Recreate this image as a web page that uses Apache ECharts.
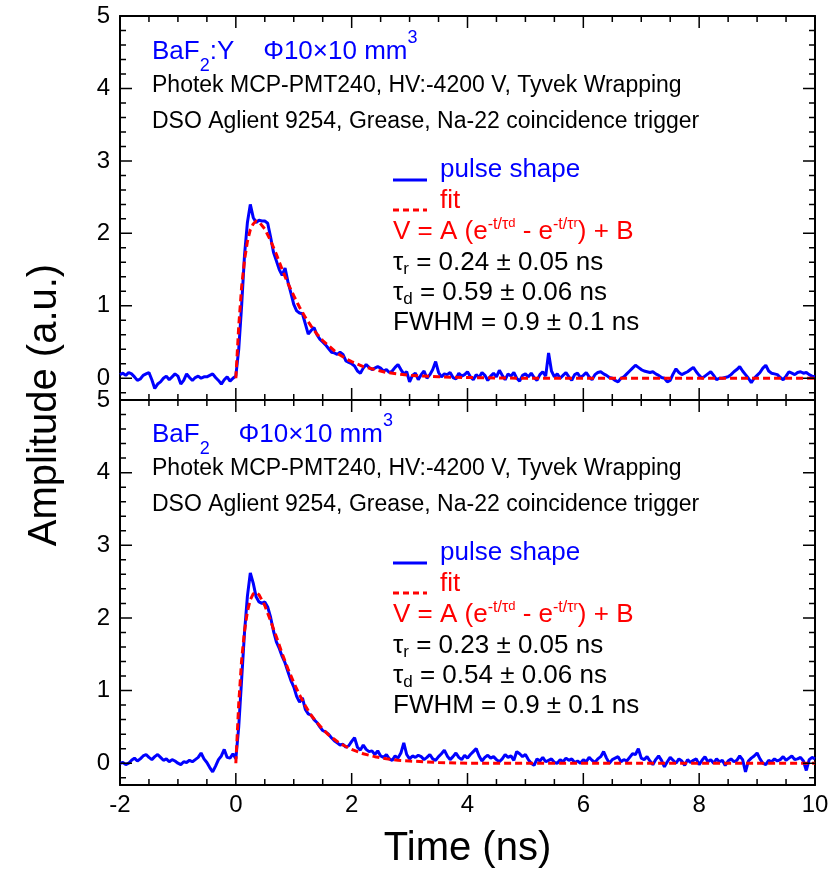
<!DOCTYPE html>
<html>
<head>
<meta charset="utf-8">
<title>BaF2 pulse shape</title>
<script src="https://cdn.jsdelivr.net/npm/echarts@6/dist/echarts.min.js"></script>
<style>
  html, body { margin: 0; padding: 0; background: #fff; }
  #chart { width: 832px; height: 879px; }
</style>
</head>
<body>
<div id="chart"></div>
<script>
// scope traces: one sample every 0.05 ns, from -2 ns to 10 ns
var timeStart = -2;
var timeStep = 0.05;

// BaF2:Y trace (top panel)
var pulseBaFY = [
  0.05,0.07,0.04,0.08,0.06,0.02,-0.03,-0.01,0.04,0.06,0.08,-0.02,-0.14,-0.08,-0.05,0.00,0.03,-0.02,0.02,0.06,
  0.03,-0.08,-0.03,0.06,0.01,-0.03,0.01,0.03,0.00,0.02,0.02,0.04,0.06,0.01,-0.03,-0.08,-0.02,0.02,-0.04,0.00,
  0.03,0.40,1.00,1.70,2.15,2.40,2.22,2.15,2.18,2.17,2.17,2.14,1.95,1.74,1.62,1.50,1.42,1.52,1.33,1.18,
  1.02,0.93,0.90,0.89,0.75,0.61,0.66,0.70,0.60,0.54,0.50,0.46,0.41,0.36,0.35,0.33,0.36,0.33,0.24,0.22,
  0.20,0.17,0.10,0.07,0.14,0.19,0.15,0.12,0.14,0.16,0.14,0.10,0.12,0.08,0.10,0.15,0.19,0.12,0.06,0.09,
  -0.05,0.04,0.07,-0.02,0.05,0.10,0.00,0.05,0.12,0.23,0.08,0.02,0.06,0.05,0.08,0.01,-0.01,0.07,0.03,0.05,
  0.09,0.02,-0.02,0.05,0.01,0.08,0.04,-0.03,0.03,0.07,0.02,0.11,0.04,-0.02,0.06,0.03,0.08,0.00,-0.04,0.04,
  0.06,0.02,0.07,0.01,-0.03,0.05,0.09,0.03,0.35,0.10,0.02,0.06,0.00,0.04,0.08,0.02,-0.03,0.05,0.07,0.01,
  0.04,0.08,0.02,-0.02,0.05,0.08,0.09,0.06,0.04,0.01,0.00,-0.03,-0.05,0.00,0.02,0.06,0.10,0.14,0.18,0.15,
  0.12,0.10,0.09,0.08,0.09,0.06,0.04,0.01,0.00,-0.05,-0.03,0.06,0.13,0.08,0.05,0.07,0.09,0.12,0.15,0.09,
  0.04,0.00,0.03,0.06,0.09,0.04,-0.02,0.00,0.00,0.01,0.02,0.05,0.09,0.12,0.16,0.10,0.05,0.00,-0.06,0.00,
  0.04,0.08,0.14,0.18,0.10,0.07,0.06,0.05,0.01,-0.02,0.03,0.09,0.07,0.05,0.08,0.09,0.07,0.08,0.05,0.03,
  0.02
];

// BaF2 trace (bottom panel)
var pulseBaF = [
  0.00,0.01,-0.02,0.00,0.04,0.07,0.03,0.06,0.10,0.12,0.08,0.05,0.09,0.12,0.08,0.04,0.06,0.02,0.05,0.03,
  0.00,-0.02,0.02,0.01,0.04,0.02,0.05,0.08,0.14,0.06,0.01,-0.06,-0.12,-0.04,0.05,0.10,0.19,0.08,0.07,0.13,
  0.06,0.50,1.15,1.80,2.30,2.62,2.48,2.29,2.22,2.20,2.22,2.15,2.01,1.82,1.67,1.58,1.47,1.38,1.26,1.14,
  1.05,0.92,0.84,0.90,0.74,0.68,0.66,0.60,0.56,0.50,0.45,0.43,0.40,0.35,0.31,0.28,0.25,0.26,0.22,0.24,
  0.30,0.35,0.22,0.18,0.25,0.19,0.16,0.17,0.12,0.17,0.10,0.08,0.12,0.06,0.04,0.10,0.07,0.14,0.28,0.12,
  0.06,0.10,0.08,0.11,0.09,0.05,0.08,0.12,0.06,0.04,0.09,0.13,0.18,0.10,0.05,0.09,0.14,0.08,0.05,0.11,
  0.07,0.12,0.16,0.20,0.10,0.03,0.08,0.11,0.07,0.09,0.05,0.02,0.06,0.12,0.08,0.10,0.04,0.16,0.13,0.09,
  0.12,0.05,0.00,-0.03,0.06,0.03,0.08,0.02,0.04,0.06,0.01,0.00,0.05,0.02,0.07,0.04,0.06,0.01,0.03,0.00,
  0.05,0.02,0.08,0.04,0.01,0.06,0.09,0.16,0.07,0.00,0.05,0.07,0.09,0.02,0.05,0.03,0.08,0.13,0.12,0.20,
  0.07,0.05,0.09,0.03,-0.02,0.05,0.10,0.04,-0.05,0.02,0.08,0.04,0.00,0.06,0.03,-0.03,0.05,0.01,0.04,0.06,
  -0.02,0.04,0.09,0.02,0.05,0.00,0.06,0.02,0.04,-0.03,0.03,0.06,0.02,0.04,0.10,0.05,-0.12,0.03,0.07,0.10,
  0.14,0.06,0.00,-0.02,0.04,0.02,0.06,0.03,0.05,0.09,0.04,0.07,0.10,0.05,0.06,0.08,0.03,-0.10,0.05,0.08,
  0.06
];

// fitted curves (red dashed), read at these times
var fitTime = [0,0.05,0.1,0.15,0.2,0.25,0.3,0.35,0.4,0.5,0.6,0.7,0.8,0.9,1.0,1.1,1.2,1.3,1.4,1.5,1.6,1.7,1.8,1.9,2.0,2.2,2.4,2.6,2.8,3.0,3.5,4.0,5,6,7,8,9,10];
var fitBaFY = [0,0.72,1.26,1.63,1.89,2.05,2.13,2.17,2.16,2.06,1.90,1.71,1.50,1.31,1.14,0.98,0.84,0.72,0.61,0.52,0.45,0.38,0.32,0.27,0.23,0.16,0.12,0.08,0.06,0.04,0.02,0.01,0,0,0,0,0,0];
var fitBaF = [0,0.82,1.42,1.82,2.09,2.25,2.33,2.35,2.32,2.17,1.96,1.74,1.51,1.30,1.11,0.94,0.79,0.66,0.56,0.47,0.39,0.33,0.27,0.23,0.19,0.13,0.09,0.06,0.04,0.03,0.01,0,0,0,0,0,0,0];

// tick positions
var xMajor = [-2, 0, 2, 4, 6, 8, 10];
var xMinor = [-1.5, -1, -0.5, 0.5, 1, 1.5, 2.5, 3, 3.5, 4.5, 5, 5.5, 6.5, 7, 7.5, 8.5, 9, 9.5];
var yMajor = [0, 1, 2, 3, 4, 5];
var yMinor = [-0.2, 0.2, 0.4, 0.6, 0.8, 1.2, 1.4, 1.6, 1.8, 2.2, 2.4, 2.6, 2.8, 3.2, 3.4, 3.6, 3.8, 4.2, 4.4, 4.6, 4.8];

var FONT = "'Liberation Sans', Arial, sans-serif";
var BLUE = '#0000ff';
var RED = '#ff0000';

// axis ranges and grid sizes (px)
var X_MIN = -2, X_MAX = 10, Y_MIN = -0.3, Y_MAX = 5;
var GRID_W = 695;
var GRID_H = [384, 385];
var MAJOR_LEN = 12;
var MINOR_LEN = 6;

function pulsePairs(values) {
  return values.map(function (v, i) {
    return [Math.round((timeStart + i * timeStep) * 100) / 100, v];
  });
}
function pairs(xs, ys) {
  return xs.map(function (x, i) { return [x, ys[i]]; });
}

// inward frame ticks as short broken segments of one line series per panel
function tickSegments(gridH) {
  var dx = (X_MAX - X_MIN) / GRID_W;   // axis units per pixel
  var dy = (Y_MAX - Y_MIN) / gridH;
  var out = [];
  function seg(a, b) { out.push(a, b, [NaN, NaN]); }
  function xt(vals, len) {
    vals.forEach(function (v) {
      seg([v, Y_MIN], [v, Y_MIN + len * dy]);
      seg([v, Y_MAX], [v, Y_MAX - len * dy]);
    });
  }
  function yt(vals, len) {
    vals.forEach(function (v) {
      seg([X_MIN, v], [X_MIN + len * dx, v]);
      seg([X_MAX, v], [X_MAX - len * dx, v]);
    });
  }
  xt(xMajor, MAJOR_LEN); xt(xMinor, MINOR_LEN);
  yt(yMajor, MAJOR_LEN); yt(yMinor, MINOR_LEN);
  return out;
}

function xAx(grid, pos, labels) {
  return {
    type: 'value', gridIndex: grid, position: pos,
    min: X_MIN, max: X_MAX, interval: 2,
    axisLine: { show: true, onZero: false, lineStyle: { color: '#000', width: 2 } },
    axisTick: { show: false },
    axisLabel: { show: labels, color: '#000', fontSize: 24, fontFamily: FONT, margin: 8 },
    splitLine: { show: false }
  };
}
function yAx(grid, pos, labels) {
  return {
    type: 'value', gridIndex: grid, position: pos,
    min: Y_MIN, max: Y_MAX,
    axisLine: { show: true, onZero: false, lineStyle: { color: '#000', width: 2 } },
    axisTick: { show: false },
    axisLabel: { show: labels, customValues: yMajor, color: '#000', fontSize: 24, fontFamily: FONT, margin: 10 },
    splitLine: { show: false }
  };
}

function txt(x, y, text, size, color) {
  return {
    type: 'text', x: x, y: y, z: 100,
    style: { text: text, fill: color, fontSize: size, fontFamily: FONT, align: 'left', verticalAlign: 'middle' }
  };
}
function rtxt(x, y, text, rich) {
  return {
    type: 'text', x: x, y: y, z: 100,
    style: { text: text, rich: rich, fontFamily: FONT, align: 'left', verticalAlign: 'middle' }
  };
}

var titleRich = {
  m: { fontSize: 26, lineHeight: 46, verticalAlign: 'middle', fill: BLUE, fontFamily: FONT },
  sub: { fontSize: 18, lineHeight: 16, verticalAlign: 'bottom', fill: BLUE, fontFamily: FONT },
  sup: { fontSize: 18, lineHeight: 16, verticalAlign: 'top', fill: BLUE, fontFamily: FONT }
};
var formulaRich = {
  m: { fontSize: 26, lineHeight: 30, verticalAlign: 'middle', fill: RED, fontFamily: FONT },
  sp: { fontSize: 16, lineHeight: 12, verticalAlign: 'top', fill: RED, fontFamily: FONT },
  ss: { fontSize: 13, lineHeight: 30, verticalAlign: 'top', fill: RED, fontFamily: FONT }
};
var tauRich = {
  m: { fontSize: 26, lineHeight: 30, verticalAlign: 'middle', fill: '#000', fontFamily: FONT },
  sb: { fontSize: 17, lineHeight: 8, verticalAlign: 'bottom', fill: '#000', fontFamily: FONT }
};

// text block of one panel, shifted down by dy
function panelText(dy, title, tr, td) {
  return [
    rtxt(152, 52 + dy, title, titleRich),
    txt(152, 86 + dy, 'Photek MCP-PMT240, HV:-4200 V, Tyvek Wrapping', 23, '#000'),
    txt(152, 122 + dy, 'DSO Aglient 9254, Grease, Na-22 coincidence trigger', 23, '#000'),
    { type: 'line', z: 100, shape: { x1: 393, y1: 180 + dy, x2: 427, y2: 180 + dy }, style: { stroke: BLUE, lineWidth: 3 } },
    txt(440, 170 + dy, 'pulse shape', 26, BLUE),
    { type: 'line', z: 100, shape: { x1: 393, y1: 210 + dy, x2: 427, y2: 210 + dy }, style: { stroke: RED, lineWidth: 3, lineDash: [6, 4] } },
    txt(440, 201 + dy, 'fit', 26, RED),
    rtxt(393, 232 + dy, '{m|V = A (e}{sp|-t/τ}{ss|d}{m| - e}{sp|-t/τ}{ss|r}{m|) + B}', formulaRich),
    rtxt(393, 263 + dy, '{m|τ}{sb|r}{m| = ' + tr + '}', tauRich),
    rtxt(393, 293 + dy, '{m|τ}{sb|d}{m| = ' + td + '}', tauRich),
    txt(393, 323 + dy, 'FWHM = 0.9 ± 0.1 ns', 26, '#000')
  ];
}

var chart = echarts.init(document.getElementById('chart'));
var xAxes = [xAx(0, 'bottom', false), xAx(0, 'top', false), xAx(1, 'bottom', true), xAx(1, 'top', false)];
xAxes[2].name = 'Time (ns)';
xAxes[2].nameLocation = 'middle';
xAxes[2].nameGap = 44;
xAxes[2].nameTextStyle = { fontSize: 40, color: '#000', fontFamily: FONT };

function tickSeries(xi, yi, gridH) {
  return {
    type: 'line', xAxisIndex: xi, yAxisIndex: yi, data: tickSegments(gridH),
    showSymbol: false, connectNulls: false, silent: true, clip: false, z: 3,
    lineStyle: { color: '#000', width: 1.5 }
  };
}

chart.setOption({
  backgroundColor: '#fff',
  animation: false,
  grid: [
    { left: 120, right: 17, top: 16, height: GRID_H[0] },
    { left: 120, right: 17, top: 400, height: GRID_H[1] }
  ],
  xAxis: xAxes,
  yAxis: [yAx(0, 'left', true), yAx(0, 'right', false), yAx(1, 'left', true), yAx(1, 'right', false)],
  series: [
    { type: 'line', xAxisIndex: 0, yAxisIndex: 0, data: pulsePairs(pulseBaFY), showSymbol: false,
      lineStyle: { color: BLUE, width: 3 } },
    { type: 'line', xAxisIndex: 0, yAxisIndex: 0, data: pairs(fitTime, fitBaFY), showSymbol: false,
      lineStyle: { color: RED, width: 3, type: [7, 4] } },
    { type: 'line', xAxisIndex: 2, yAxisIndex: 2, data: pulsePairs(pulseBaF), showSymbol: false,
      lineStyle: { color: BLUE, width: 3 } },
    { type: 'line', xAxisIndex: 2, yAxisIndex: 2, data: pairs(fitTime, fitBaF), showSymbol: false,
      lineStyle: { color: RED, width: 3, type: [7, 4] } },
    tickSeries(0, 0, GRID_H[0]),
    tickSeries(2, 2, GRID_H[1])
  ],
  graphic: [
    {
      type: 'text', x: 45, y: 405, rotation: Math.PI / 2, z: 100,
      style: { text: 'Amplitude (a.u.)', fill: '#000', fontSize: 40, fontFamily: FONT, align: 'center', verticalAlign: 'middle' }
    }
  ].concat(
    panelText(0, '{m|BaF}{sub|2}{m|:Y    Φ10×10 mm}{sup|3}', '0.24 ± 0.05 ns', '0.59 ± 0.06 ns'),
    panelText(383, '{m|BaF}{sub|2}{m|    Φ10×10 mm}{sup|3}', '0.23 ± 0.05 ns', '0.54 ± 0.06 ns')
  )
});
</script>
</body>
</html>
